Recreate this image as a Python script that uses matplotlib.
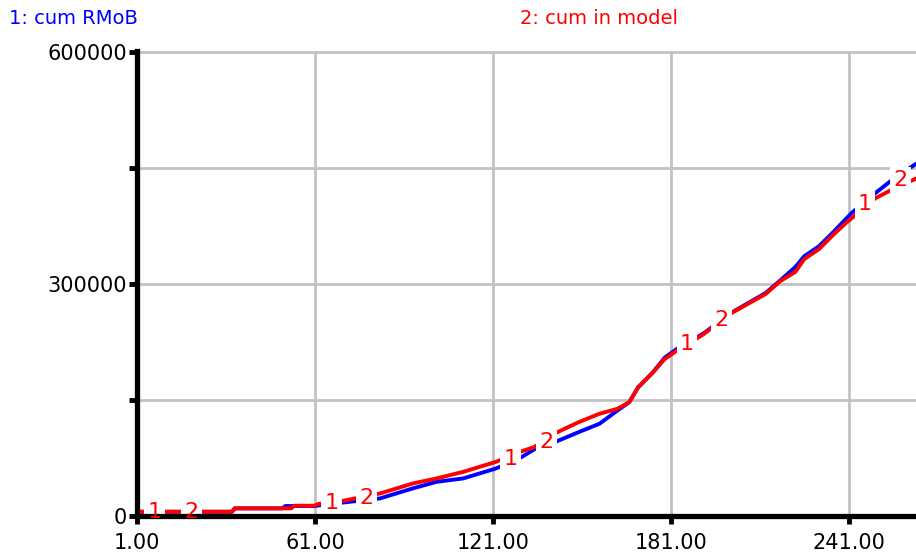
import numpy as np
import matplotlib
matplotlib.use('Agg')
import matplotlib.pyplot as plt

plt.rcParams['font.family'] = ['DejaVu Sans']

# series 1: cum RMoB (blue)
rmob_days = [1, 33, 34, 50, 51, 61, 68, 70, 83, 94, 102, 111, 122, 130, 135, 142, 150, 157, 163,
             167, 170, 175, 179, 183, 192, 201, 213, 218, 223, 226, 231, 236, 242, 250, 255, 259, 264]
rmob = [5500, 5500, 9900, 9900, 12900, 12900, 17200, 17200, 22800, 35700, 44200, 48600, 61400, 74700,
        86300, 95700, 108600, 119400, 136500, 147200, 166500, 185900, 205000, 216000, 236000, 262000,
        288500, 305000, 322000, 336000, 349000, 368000, 392000, 417700, 432800, 443500, 456300]

# series 2: cum in model (red)
model_days = [1, 33, 34, 53, 54, 61, 62, 70, 83, 94, 102, 111, 122, 130, 135, 142, 150, 157, 163,
              167, 170, 175, 179, 183, 192, 201, 213, 218, 223, 226, 231, 236, 240, 246, 250, 255, 264]
model = [5500, 5500, 9900, 9900, 13300, 13300, 15500, 19300, 29200, 42100, 48600, 57100, 70000, 82800,
         89300, 107000, 121500, 132300, 138700, 147200, 166500, 185900, 203100, 213800, 235000, 261500,
         287200, 304000, 315700, 332300, 345200, 364500, 378700, 398000, 411000, 421000, 437000]

# curve number markers
label1_days = [7, 66.5, 127, 186.5, 246.5]
label2_days = [19.5, 78.5, 139, 198, 258.5]

xticks = [1, 61, 121, 181, 241]
yticks = [0, 150000, 300000, 450000, 600000]
ylabels = ['0', '', '300000', '', '600000']

fig = plt.figure(figsize=(9.16, 5.57), dpi=100)
ax = fig.add_axes([137/916, 41/557, 1 - 137/916, (516-51)/557])

ax.plot(rmob_days, rmob, color='#0000ff', lw=2.8, solid_capstyle='butt')
ax.plot(model_days, model, color='#ff0000', lw=2.8, solid_capstyle='butt')

def curve_label(d, txt):
    yv = (np.interp(d, rmob_days, rmob) + np.interp(d, model_days, model)) / 2
    # white gap in the lines, kept under the axis spine
    ax.text(d, yv, txt, color='white', fontsize=16, ha='center', va='center', zorder=2.2,
            bbox=dict(boxstyle='square,pad=0.15', fc='white', ec='none'))
    ax.text(d, yv, txt, color='#ff0000', fontsize=16, ha='center', va='center', zorder=3)

for d in label1_days:
    curve_label(d, '1')
for d in label2_days:
    curve_label(d, '2')

ax.set_xlim(1, 263.7)
ax.set_ylim(0, 601500)
ax.set_xticks(xticks, ['%.2f' % v for v in xticks])
ax.set_yticks(yticks, ylabels)
ax.grid(True, color='#c2c2c2', lw=2)
ax.set_axisbelow(True)

for s in ['top', 'right']:
    ax.spines[s].set_visible(False)
for s in ['left', 'bottom']:
    ax.spines[s].set_linewidth(3.8)
    ax.spines[s].set_color('black')
ax.tick_params(axis='both', direction='out', length=6, width=3.5, labelsize=15, colors='black')
ax.tick_params(axis='x', pad=6)
ax.tick_params(axis='y', pad=1)

fig.text(9/916, 1 - 18/557, '1: cum RMoB', color='#0000ff', fontsize=14, va='center', ha='left')
fig.text(520/916, 1 - 18/557, '2: cum in model', color='#ff0000', fontsize=14, va='center', ha='left')

plt.savefig('out.png', dpi=100)
